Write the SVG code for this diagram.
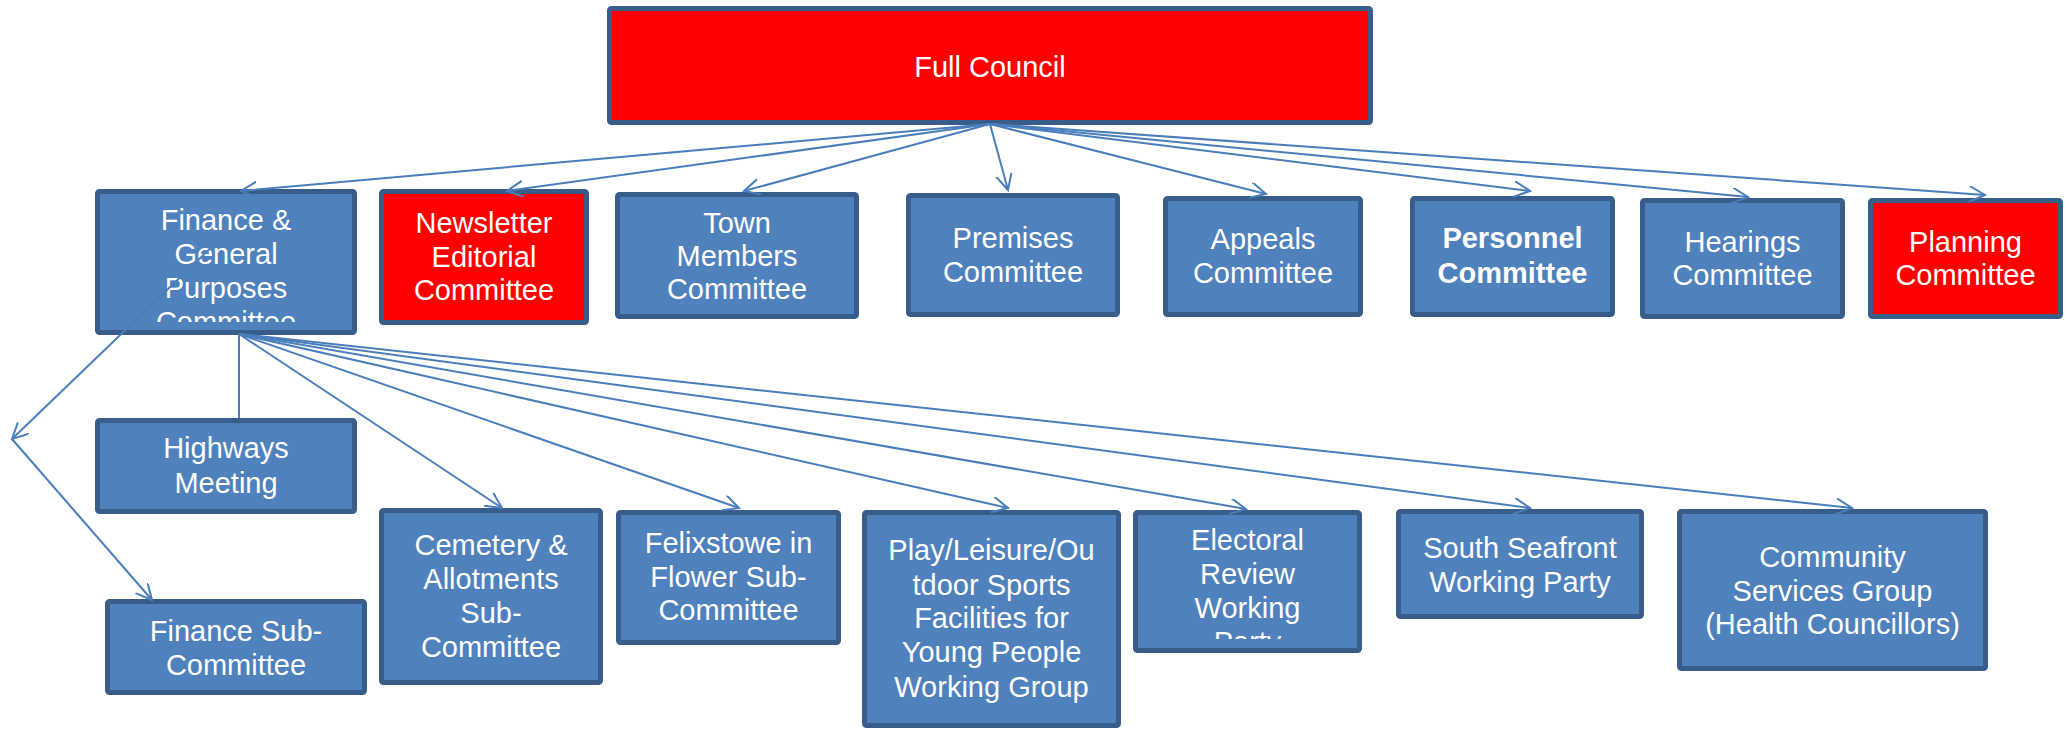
<svg xmlns="http://www.w3.org/2000/svg" width="2069" height="729" viewBox="0 0 2069 729">
<style>
.box{fill:#4F81BD;stroke:#385D8A;stroke-width:5}
.red{fill:#FF0000;stroke:#385D8A;stroke-width:5}
text{font-family:"Liberation Sans",Arial,sans-serif;font-size:29px;fill:#FFFFFF;text-anchor:middle}
.bold{font-weight:bold}
.con{fill:none;stroke:#4A7EBB;stroke-width:2}
</style>
<defs>
<marker id="arr" markerUnits="userSpaceOnUse" markerWidth="18" markerHeight="18" refX="16" refY="8" orient="auto">
<path d="M0,0 L16,8 L0,16" fill="none" stroke="#4A7EBB" stroke-width="2"/>
</marker>
<clipPath id="clipFin"><rect x="95" y="189" width="262" height="133"/></clipPath>
<clipPath id="clipElec"><rect x="1133" y="510" width="229" height="129"/></clipPath>
</defs>
<rect width="2069" height="729" fill="#FFFFFF"/>

<g id="full-council">
<rect class="red" x="609.5" y="8.5" width="761" height="114" rx="2"/>
<text x="990" y="77">Full Council</text>
</g>
<g id="finance-general">
<rect class="box" x="97.5" y="191.5" width="257" height="141" rx="2"/>
<g clip-path="url(#clipFin)">
<text x="226" y="230">Finance &amp;</text>
<text x="226" y="264">General</text>
<text x="226" y="298">Purposes</text>
<text x="226" y="332">Committee</text>
</g>
</g>
<g id="newsletter">
<rect class="red" x="381.5" y="191.5" width="205" height="131" rx="2"/>
<text x="484" y="233">Newsletter</text>
<text x="484" y="267">Editorial</text>
<text x="484" y="300">Committee</text>
</g>
<g id="town-members">
<rect class="box" x="617.5" y="194.5" width="239" height="122" rx="2"/>
<text x="737" y="233">Town</text>
<text x="737" y="266">Members</text>
<text x="737" y="299">Committee</text>
</g>
<g id="premises">
<rect class="box" x="908.5" y="195.5" width="209" height="119" rx="2"/>
<text x="1013" y="248">Premises</text>
<text x="1013" y="282">Committee</text>
</g>
<g id="appeals">
<rect class="box" x="1165.5" y="198.5" width="195" height="116" rx="2"/>
<text x="1263" y="249">Appeals</text>
<text x="1263" y="283">Committee</text>
</g>
<g id="personnel">
<rect class="box" x="1412.5" y="198.5" width="200" height="116" rx="2"/>
<text class="bold" x="1512.5" y="248">Personnel</text>
<text class="bold" x="1512.5" y="283">Committee</text>
</g>
<g id="hearings">
<rect class="box" x="1642.5" y="200.5" width="200" height="116" rx="2"/>
<text x="1742.5" y="252">Hearings</text>
<text x="1742.5" y="285">Committee</text>
</g>
<g id="planning">
<rect class="red" x="1870.5" y="200.5" width="190" height="116" rx="2"/>
<text x="1965.5" y="252">Planning</text>
<text x="1965.5" y="285">Committee</text>
</g>
<g id="highways">
<rect class="box" x="97.5" y="420.5" width="257" height="91" rx="2"/>
<text x="226" y="458">Highways</text>
<text x="226" y="493">Meeting</text>
</g>
<g id="finance-sub">
<rect class="box" x="107.5" y="601.5" width="257" height="91" rx="2"/>
<text x="236" y="641">Finance Sub-</text>
<text x="236" y="675">Committee</text>
</g>
<g id="cemetery">
<rect class="box" x="381.5" y="510.5" width="219" height="172" rx="2"/>
<text x="491" y="555">Cemetery &amp;</text>
<text x="491" y="589">Allotments</text>
<text x="491" y="623">Sub-</text>
<text x="491" y="657">Committee</text>
</g>
<g id="felixstowe">
<rect class="box" x="618.5" y="512.5" width="220" height="130" rx="2"/>
<text x="728.5" y="553">Felixstowe in</text>
<text x="728.5" y="587">Flower Sub-</text>
<text x="728.5" y="620">Committee</text>
</g>
<g id="play">
<rect class="box" x="864.5" y="512.5" width="254" height="213" rx="2"/>
<text x="991.5" y="560">Play/Leisure/Ou</text>
<text x="991.5" y="595">tdoor Sports</text>
<text x="991.5" y="628">Facilities for</text>
<text x="991.5" y="662">Young People</text>
<text x="991.5" y="697">Working Group</text>
</g>
<g id="electoral">
<rect class="box" x="1135.5" y="512.5" width="224" height="138" rx="2"/>
<g clip-path="url(#clipElec)">
<text x="1247.5" y="550">Electoral</text>
<text x="1247.5" y="584">Review</text>
<text x="1247.5" y="618">Working</text>
<text x="1247.5" y="652">Party</text>
</g>
</g>
<g id="south-seafront">
<rect class="box" x="1398.5" y="511.5" width="243" height="105" rx="2"/>
<text x="1520" y="558">South Seafront</text>
<text x="1520" y="592">Working Party</text>
</g>
<g id="community">
<rect class="box" x="1679.5" y="511.5" width="306" height="157" rx="2"/>
<text x="1832.5" y="567">Community</text>
<text x="1832.5" y="601">Services Group</text>
<text x="1832.5" y="634">(Health Councillors)</text>
</g>

<g id="connectors">
<path class="con" marker-end="url(#arr)" d="M990,124 L241,191"/>
<path class="con" marker-end="url(#arr)" d="M990,124 L507,191"/>
<path class="con" marker-end="url(#arr)" d="M990,124 L744,191"/>
<path class="con" marker-end="url(#arr)" d="M990,124 L1008,190"/>
<path class="con" marker-end="url(#arr)" d="M990,124 L1266,194"/>
<path class="con" marker-end="url(#arr)" d="M990,124 L1530,191"/>
<path class="con" marker-end="url(#arr)" d="M990,124 L1748,197"/>
<path class="con" marker-end="url(#arr)" d="M990,124 L1985,195"/>
<path class="con" d="M239,334 L239,418"/>
<path class="con" marker-end="url(#arr)" d="M239,334 L502,508"/>
<path class="con" marker-end="url(#arr)" d="M239,334 L739,508"/>
<path class="con" marker-end="url(#arr)" d="M239,334 L1008,508"/>
<path class="con" marker-end="url(#arr)" d="M239,334 L1246,509"/>
<path class="con" marker-end="url(#arr)" d="M239,334 L1530,508"/>
<path class="con" marker-end="url(#arr)" d="M239,334 L1852,508"/>
<path class="con" marker-end="url(#arr)" d="M217,242 L12,439"/>
<path class="con" marker-end="url(#arr)" d="M12,439 L152,600"/>
</g>
</svg>
